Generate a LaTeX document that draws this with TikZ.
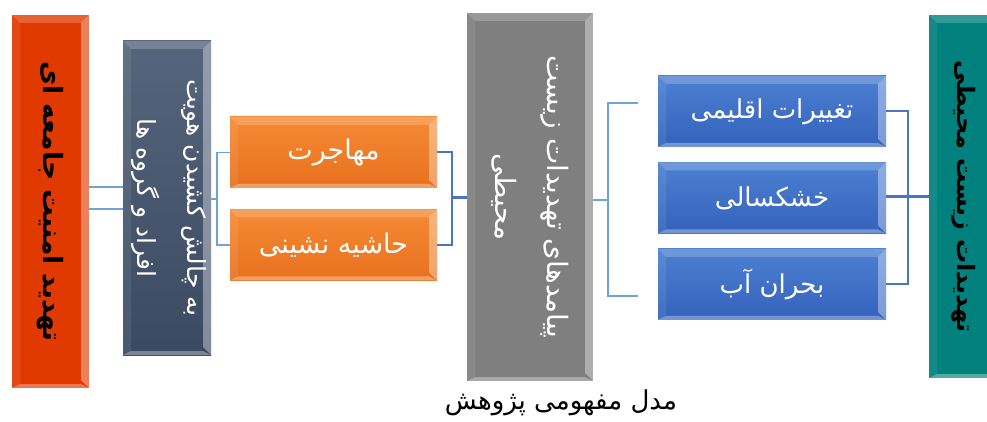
\documentclass[tikz,border=0pt]{standalone}
\usepackage{fontspec}
\usepackage{tikz}
\usetikzlibrary{positioning}
\TeXXeTstate=1
\newfontfamily\farsi[Script=Arabic]{DejaVu Sans}

\definecolor{redbox}{HTML}{E03A00}
\definecolor{slatetop}{HTML}{56657B}
\definecolor{slatebot}{HTML}{3B4A61}
\definecolor{orangetop}{HTML}{F58A35}
\definecolor{orangebot}{HTML}{E8711E}
\definecolor{graybox}{HTML}{7F7F7F}
\definecolor{bluetop}{HTML}{4C80D2}
\definecolor{bluebot}{HTML}{3462BC}
\definecolor{tealbox}{HTML}{00817D}
\definecolor{linklight}{HTML}{6FA3DB}
\definecolor{linkdark}{HTML}{4A74C4}

\begin{document}
\begin{tikzpicture}[x=1pt,y=-1pt]

\tikzset{bevel/.style={path picture={
  \fill[white,opacity=.20] (path picture bounding box.north west) -- (path picture bounding box.north east)
    -- ([shift={(-8pt,-8pt)}]path picture bounding box.north east) -- ([shift={(8pt,-8pt)}]path picture bounding box.north west) -- cycle;
  \fill[white,opacity=.36] (path picture bounding box.north east) -- (path picture bounding box.south east)
    -- ([shift={(-8pt,8pt)}]path picture bounding box.south east) -- ([shift={(-8pt,-8pt)}]path picture bounding box.north east) -- cycle;
  \fill[white,opacity=.32] (path picture bounding box.south east) -- (path picture bounding box.south west)
    -- ([shift={(8pt,4pt)}]path picture bounding box.south west) -- ([shift={(-8pt,4pt)}]path picture bounding box.south east) -- cycle;
  \fill[white,opacity=.08] (path picture bounding box.south west) -- (path picture bounding box.north west)
    -- ([shift={(8pt,-8pt)}]path picture bounding box.north west) -- ([shift={(8pt,4pt)}]path picture bounding box.south west) -- cycle;
}}}
\tikzset{box style/.style={rectangle,draw=none,inner sep=0pt,bevel}}
\tikzset{tall box/.style={box style,minimum width=#1}}
\tikzset{orange box/.style={box style,top color=orangetop,bottom color=orangebot,minimum width=207pt,minimum height=71pt,
  text=white,font=\farsi\fontsize{27}{30}\selectfont}}
\tikzset{blue box/.style={box style,top color=bluetop,bottom color=bluebot,minimum width=228pt,minimum height=71pt,
  text=white,font=\farsi\fontsize{26}{30}\selectfont}}
\tikzset{rot text/.style={rotate=-90,align=center,font=\farsi\fontsize{27}{48}\selectfont}}
\tikzset{link/.style={draw=linklight,line width=1.2pt}}
\tikzset{bus/.style={draw=linkdark,line width=2pt}}

\clip (0,0) rectangle (987,422);

% tall boxes
\node[tall box=77pt,fill=redbox,minimum height=373pt]                       (threat) at (50.5,201.5) {};
\node[tall box=88pt,top color=slatetop,bottom color=slatebot,minimum height=314pt] (ident)  at (167,198) {};
\node[tall box=126pt,fill=graybox,minimum height=368pt]                     (effect) at (530,197) {};
\node[tall box=70pt,fill=tealbox,minimum height=363pt]                      (envir)  at (964,196.5) {};

\node[rot text,font=\farsi\bfseries\fontsize{26.5}{30}\selectfont] (threat text) at (threat.center)
  {\beginR تهدید امنیت جامعه ای\endR};
\node[rot text,text=white,font=\farsi\fontsize{25}{50}\selectfont] (ident text) at ([xshift=2pt]ident.center)
  {\beginR به چالش کشیدن هویت\endR\\ \beginR افراد و گروه ها\endR};
\node[rot text,text=white,font=\farsi\fontsize{28}{52}\selectfont] (effect text) at (effect.center)
  {\beginR پیامدهای تهدیدات زیست\endR\\ \beginR محیطی\endR};
\node[rot text,font=\farsi\bfseries\fontsize{24}{30}\selectfont] (envir text) at (envir.center)
  {\beginR تهدیدات زیست محیطی\endR};

% orange boxes
\node[orange box]                      (migr) at (333.5,152.5) {\beginR مهاجرت\endR};
\node[orange box, below=21pt of migr]  (marg) {\beginR حاشیه نشینی\endR};

% blue boxes
\node[blue box]                        (climate) at (772,111.5) {\beginR تغییرات اقلیمی\endR};
\node[blue box, below=15pt of climate] (drought) {\beginR خشکسالی\endR};
\node[blue box, below=15pt of drought] (water)   {\beginR بحران آب\endR};

% joints
\coordinate (p1) at (100,187);
\coordinate (p2) at (100,209);
\coordinate (ol) at (217,199);
\coordinate (or) at (452,197);
\coordinate (gl) at (608,200);
\coordinate (gt) at (638,103);
\coordinate (gb) at (638,296);
\coordinate (br) at (908,196);

\draw[link] (threat.east |- p1) -- (ident.west |- p1);
\draw[link] (threat.east |- p2) -- (ident.west |- p2);

\draw[link] (ident.east |- ol) -- (ol);
\draw[link] (migr.west) -- (migr.west -| ol) -- (marg.west -| ol) -- (marg.west);

\draw[bus] (migr.east) -- (migr.east -| or) -- (marg.east -| or) -- (marg.east);
\draw[bus,line width=3pt] (or) -- (effect.west |- or);

\draw[link] (effect.east |- gl) -- (gl);
\draw[link] (gt) -- (gt -| gl) -- (gb -| gl) -- (gb);

\draw[bus] (climate.east) -- (climate.east -| br) -- (water.east -| br) -- (water.east);
\draw[bus,line width=3pt] (drought.east |- br) -- (envir.west |- br);

% caption
\node[font=\farsi\fontsize{26}{30}\selectfont] (caption) at (561,403) {\beginR مدل مفهومی پژوهش\endR};

\end{tikzpicture}
\end{document}
